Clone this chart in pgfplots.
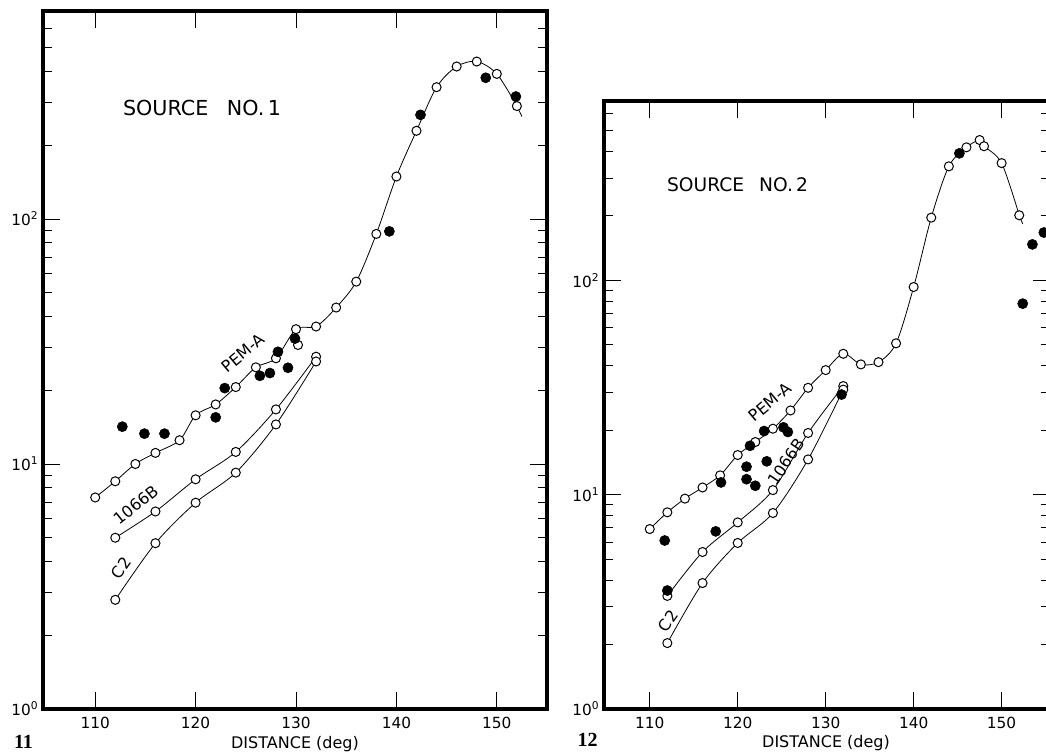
\documentclass[border=0pt]{standalone}
\usepackage{fontspec}
\setmainfont{DejaVu Sans}
\newfontfamily\figfont{Liberation Serif}
\usepackage{pgfplots}
\usepackage{pgfplotstable}
\pgfplotsset{compat=1.18}

\pgfplotstableread{
x y
110 7.3
112 8.5
114 10.0
116 11.1
118.4 12.5
120 15.8
122 17.5
124 20.6
126 24.8
128 27.0
130 35.5
132 36.4
134 43.5
136 55.5
138 86.9
140 149
142 229
144 345
146 419
148 439
150 391
152 289
}\pemAone
\pgfplotstableread{
x y
112 5.0
116 6.4
120 8.66
124 11.2
128 16.7
132 27.4
}\bone
\pgfplotstableread{
x y
112 2.79
116 4.75
120 6.95
124 9.22
128 14.5
132 26.2
}\cone
\pgfplotstableread{
x y
112.7 14.2
114.9 13.3
116.9 13.3
122 15.5
122.9 20.4
126.4 22.9
127.4 23.5
128.2 28.7
129.2 24.7
129.9 32.5
139.3 89
142.4 266
148.9 377
151.9 316
}\fone
\pgfplotstableread{
x y
110 6.91
112 8.27
114 9.58
116 10.8
118 12.3
120 15.3
122 17.6
124 20.3
126 24.7
128 31.5
130 38.1
132 45.4
134 40.5
136 41.5
138 50.8
140 93
142 196
144 340
146 417
147.5 451
148 422
150 352
152 201
}\pemAtwo
\pgfplotstableread{
x y
112 3.37
116 5.40
120 7.42
124 10.5
128 19.4
132 32.1
}\btwo
\pgfplotstableread{
x y
112 2.03
116 3.87
120 5.95
124 8.21
128 14.6
132 30.9
}\ctwo
\pgfplotstableread{
x y
111.7 6.11
117.5 6.74
118.1 11.4
121 13.5
121 11.8
121.4 16.9
122 11.0
123 19.8
123.3 14.3
125.2 20.6
125.7 19.6
131.8 29.3
112 3.57
145.2 391
152.4 77.8
153.5 147
154.8 167
}\ftwo

\begin{document}
\begin{tikzpicture}[x=0.75pt,y=0.75pt]
\useasboundingbox (0,0) rectangle (1046,754);

\begin{axis}[at={(32.25pt,33.75pt)}, anchor=south west,
  width=378pt, height=523.5pt, xmax=155, ymax=706,
  scale only axis, ymode=log, ymin=1, xmin=104.8,
  axis line style={line width=2.4pt, line cap=rect},
  every tick/.style={black, line width=0.6pt},
  major tick length=13pt, minor tick length=6.5pt,
  tick align=inside,
  xtick={110,120,130,140,150},
  xticklabels={110,120,130,140,150},
  minor xtick={},
  ytick={1,10,100},
  yticklabels={10\textsuperscript{0},10\textsuperscript{1},10\textsuperscript{2}},
  minor ytick={2,3,4,5,6,7,8,9,20,30,40,50,60,70,80,90,200,300,400,500,600,700,800,900},
  tick label style={font=\fontsize{11.5}{13}\selectfont},
  xticklabel style={yshift=-2.5pt},
  clip=false]
  \addplot[black, line width=0.6pt, smooth, no marks] table[x=x,y=y] {\pemAone};
  \addplot[black, line width=0.6pt, no marks] coordinates {(152,289) (152.5,262)};
  \addplot[black, line width=0.6pt, smooth, no marks] table[x=x,y=y] {\bone};
  \addplot[black, line width=0.6pt, smooth, no marks] table[x=x,y=y] {\cone};
  \addplot[only marks, mark=*, mark size=3.4pt, mark options={fill=white, draw=black, line width=0.75pt}] table[x=x,y=y] {\pemAone};
  \addplot[only marks, mark=*, mark size=3.4pt, mark options={fill=white, draw=black, line width=0.75pt}] table[x=x,y=y] {\bone};
  \addplot[only marks, mark=*, mark size=3.4pt, mark options={fill=white, draw=black, line width=0.75pt}] table[x=x,y=y] {\cone};
  \addplot[only marks, mark=*, mark size=3.4pt, mark options={fill=white, draw=black, line width=0.75pt}] coordinates {(130.2,30.6)};
  \addplot[only marks, mark=*, mark size=3.8pt, mark options={fill=black, draw=black}] table[x=x,y=y] {\fone};
\end{axis}

\begin{axis}[at={(453pt,33.75pt)}, anchor=south west,
  width=334.5pt, height=456pt, xmax=155.5, ymax=686,
  scale only axis, ymode=log, ymin=1, xmin=104.8,
  axis line style={line width=2.4pt, line cap=rect},
  every tick/.style={black, line width=0.6pt},
  major tick length=13pt, minor tick length=6.5pt,
  tick align=inside,
  xtick={110,120,130,140,150},
  xticklabels={110,120,130,140,150},
  minor xtick={},
  ytick={1,10,100},
  yticklabels={10\textsuperscript{0},10\textsuperscript{1},10\textsuperscript{2}},
  minor ytick={2,3,4,5,6,7,8,9,20,30,40,50,60,70,80,90,200,300,400,500,600,700,800,900},
  tick label style={font=\fontsize{11.5}{13}\selectfont},
  xticklabel style={yshift=-2.5pt},
  clip=false]
  \addplot[black, line width=0.6pt, smooth, no marks] table[x=x,y=y] {\pemAtwo};
  \addplot[black, line width=0.6pt, no marks] coordinates {(152,201) (152.4,183)};
  \addplot[black, line width=0.6pt, smooth, no marks] table[x=x,y=y] {\btwo};
  \addplot[black, line width=0.6pt, smooth, no marks] table[x=x,y=y] {\ctwo};
  \addplot[only marks, mark=*, mark size=3.4pt, mark options={fill=white, draw=black, line width=0.75pt}] table[x=x,y=y] {\pemAtwo};
  \addplot[only marks, mark=*, mark size=3.4pt, mark options={fill=white, draw=black, line width=0.75pt}] table[x=x,y=y] {\btwo};
  \addplot[only marks, mark=*, mark size=3.4pt, mark options={fill=white, draw=black, line width=0.75pt}] table[x=x,y=y] {\ctwo};
  \addplot[only marks, mark=*, mark size=3.8pt, mark options={fill=black, draw=black}] table[x=x,y=y] {\ftwo};
\end{axis}

\node[font=\fontsize{15.5}{18}\selectfont] at (202,646.5) {SOURCE\hspace{0.9em}NO.\,1};
\node[font=\fontsize{14}{16}\selectfont] at (737.5,569.5) {SOURCE\hspace{0.8em}NO.\,2};

\node[font=\fontsize{12}{14}\selectfont, rotate=40] at (243,401) {PEM-A};
\node[font=\fontsize{12}{14}\selectfont, rotate=39] at (136,249) {1066B};
\node[font=\fontsize{12}{14}\selectfont, rotate=55] at (121,186) {C2};

\node[font=\fontsize{12}{14}\selectfont, rotate=40] at (770,352) {PEM-A};
\node[font=\fontsize{12}{14}\selectfont, rotate=56] at (786,292) {1066B};
\node[font=\fontsize{12}{14}\selectfont, rotate=55] at (668,133) {C2};

\node[font=\fontsize{12}{14}\selectfont] at (295,10) {DISTANCE (deg)};
\node[font=\fontsize{12}{14}\selectfont] at (826,11) {DISTANCE (deg)};

\node[font=\figfont\bfseries\fontsize{15}{17}\selectfont] at (23.5,12.5) {11};
\node[font=\figfont\bfseries\fontsize{15}{17}\selectfont] at (587.5,14) {12};
\end{tikzpicture}
\end{document}
